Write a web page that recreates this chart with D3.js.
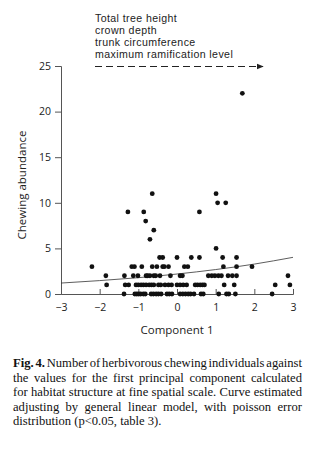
<!DOCTYPE html>
<html>
<head>
<meta charset="utf-8">
<script src="https://cdn.jsdelivr.net/npm/d3@7"></script>
<style>
  body { margin: 0; background: #fff; }
  svg { display: block; }
</style>
</head>
<body>
<div id="chart"></div>
<script>
// herbivore counts per tree against PCA component 1
var compX = [
    // count 0
    -1.37, -1.09, -1.04, -0.99, -0.94, -0.87, -0.82, -0.67, -0.61, -0.54, -0.48, -0.41, -0.26, -0.20,
    -0.13, 0.08, 0.15, 0.22, 0.29, 0.35, 0.44, 0.62, 0.68, 1.08, 1.28, 1.34, 1.51, 2.46,
    // count 1
    -1.82, -1.34, -1.25, -1.06, -1.00, -0.93, -0.87, -0.80, -0.72, -0.66, -0.60, -0.48, -0.42, -0.31,
    -0.22, -0.14, 0.00, 0.08, 0.16, 0.25, 0.47, 0.53, 0.60, 0.66, 0.71, 1.22, 1.48, 2.54, 2.92,
    // count 2
    -1.84, -1.36, -1.13, -1.01, -0.80, -0.76, -0.70, -0.60, -0.55, -0.44, -0.17, 0.08, 0.14, 0.81,
    0.90, 0.98, 1.07, 1.15, 1.32, 1.43, 1.54, 2.87,
    // count 3
    -2.20, -1.17, -1.10, -0.91, -0.64, -0.52, -0.37, -0.33, -0.22, 0.19, 0.28, 1.20, 1.54, 1.94,
    // count 4
    -0.45, -0.37, 0.00, 0.37, 0.58, 1.18, 1.54,
    // counts 5 and up
    1.01, -0.70, -0.60, -0.81, -1.27, -0.86, 0.58, 1.05, 1.26, -0.64, 1.01, 1.69
];
var chewCount = [
    0, 0, 0, 0, 0, 0, 0, 0, 0, 0, 0, 0, 0, 0, 0, 0, 0, 0, 0, 0, 0, 0, 0, 0, 0, 0, 0, 0,
    1, 1, 1, 1, 1, 1, 1, 1, 1, 1, 1, 1, 1, 1, 1, 1, 1, 1, 1, 1, 1, 1, 1, 1, 1, 1, 1, 1, 1,
    2, 2, 2, 2, 2, 2, 2, 2, 2, 2, 2, 2, 2, 2, 2, 2, 2, 2, 2, 2, 2, 2,
    3, 3, 3, 3, 3, 3, 3, 3, 3, 3, 3, 3, 3, 3,
    4, 4, 4, 4, 4, 4, 4,
    5, 6, 7, 8, 9, 9, 9, 10, 10, 11, 11, 22
];

// fitted poisson GLM curve
var curveX = [-3, -2, -1, 0, 1, 2, 3];
var curveY = [1.2, 1.47, 1.79, 2.19, 2.68, 3.28, 4.02];

var xTicks = [-3, -2, -1, 0, 1, 2, 3];
var yTicks = [0, 5, 10, 15, 20, 25];

var legendLines = ["Total tree height", "crown depth", "trunk circumference", "maximum ramification level"];

var captionLines = [
    "Number of herbivorous chewing individuals against",
    "the values for the first principal component calculated",
    "for habitat structure at fine spatial scale. Curve estimated",
    "adjusting by general linear model, with poisson error",
    "distribution (p<0.05, table 3)."
];

var width = 323, height = 449;
var sans = "'Open Sans', 'DejaVu Sans', sans-serif";

var svg = d3.select("#chart").append("svg")
    .attr("width", width)
    .attr("height", height);

var x = d3.scaleLinear().domain([-3, 3]).range([61, 293]);
var y = d3.scaleLinear().domain([0, 25]).range([294, 66]);

// axes
var xAxis = svg.append("g")
    .attr("transform", "translate(0," + y(0) + ")")
    .call(d3.axisBottom(x).tickValues(xTicks).tickSize(-5).tickPadding(10).tickFormat(d3.format("d")));

var yAxis = svg.append("g")
    .attr("transform", "translate(" + x(-3) + ",0)")
    .call(d3.axisLeft(y).tickValues(yTicks).tickSize(6).tickPadding(4));

[xAxis, yAxis].forEach(function(ax) {
    ax.select(".domain").attr("stroke", "#555").attr("stroke-width", 1);
    ax.selectAll(".tick line").attr("stroke", "#555");
    ax.selectAll(".tick text")
        .attr("fill", "#222")
        .style("font-family", sans)
        .style("font-size", "10.5px");
});

// axis titles
svg.append("text")
    .attr("x", 177)
    .attr("y", 334)
    .attr("text-anchor", "middle")
    .attr("fill", "#222")
    .style("font-family", sans)
    .style("font-size", "11.5px")
    .text("Component 1");

svg.append("text")
    .attr("transform", "translate(26,185) rotate(-90)")
    .attr("text-anchor", "middle")
    .attr("fill", "#222")
    .style("font-family", sans)
    .style("font-size", "11.5px")
    .text("Chewing abundance");

// model curve
var line = d3.line()
    .x(function(d, i) { return x(curveX[i]); })
    .y(function(d) { return y(d); })
    .curve(d3.curveNatural);

svg.append("path")
    .datum(curveY)
    .attr("d", line)
    .attr("fill", "none")
    .attr("stroke", "#333")
    .attr("stroke-width", 0.8);

// points
svg.append("g").selectAll("circle")
    .data(compX)
    .enter().append("circle")
    .attr("cx", function(d) { return x(d); })
    .attr("cy", function(d, i) { return y(chewCount[i]); })
    .attr("r", 2.4)
    .attr("fill", "#111");

// variables legend with dashed arrow; tight line box font so the lines sit close
svg.append("text")
    .attr("fill", "#222")
    .style("font-family", "'Liberation Sans', Arial, sans-serif")
    .style("font-size", "10.6px")
    .style("letter-spacing", "0.4px")
    .selectAll("tspan")
    .data(legendLines)
    .enter().append("tspan")
    .attr("x", 95)
    .attr("y", function(d, i) { return 21.7 + i * 12.2; })
    .text(function(d) { return d; });

svg.append("defs").append("marker")
    .attr("id", "arrow")
    .attr("viewBox", "0 0 10 10")
    .attr("refX", 9).attr("refY", 5)
    .attr("markerWidth", 6).attr("markerHeight", 6)
    .attr("orient", "auto")
    .append("path")
    .attr("d", "M0,1 L10,5 L0,9 Z")
    .attr("fill", "#222");

svg.append("line")
    .attr("x1", 95).attr("x2", 263)
    .attr("y1", 66.5).attr("y2", 66.5)
    .attr("stroke", "#222")
    .attr("stroke-width", 1.2)
    .attr("stroke-dasharray", "7,4")
    .attr("marker-end", "url(#arrow)");

// caption, justified line by line
var capLeft = 13, capRight = 302;
var caption = svg.append("g")
    .style("font-family", "'Liberation Serif', 'Times New Roman', serif")
    .style("font-size", "12.6px")
    .attr("fill", "#111");

captionLines.forEach(function(txt, i) {
    var t = caption.append("text")
        .attr("x", capLeft)
        .attr("y", 367 + i * 14.6);
    if (i === 0) {
        t.append("tspan").attr("font-weight", "bold").text("Fig. 4. ");
    }
    t.append("tspan").text(txt);

    if (i < captionLines.length - 1) {
        var full = (i === 0 ? "Fig. 4. " : "") + txt;
        var gaps = full.split(" ").length - 1;
        var extra = (capRight - capLeft) - t.node().getComputedTextLength();
        if (gaps > 0) t.attr("word-spacing", extra / gaps);
    }
});
</script>
</body>
</html>
